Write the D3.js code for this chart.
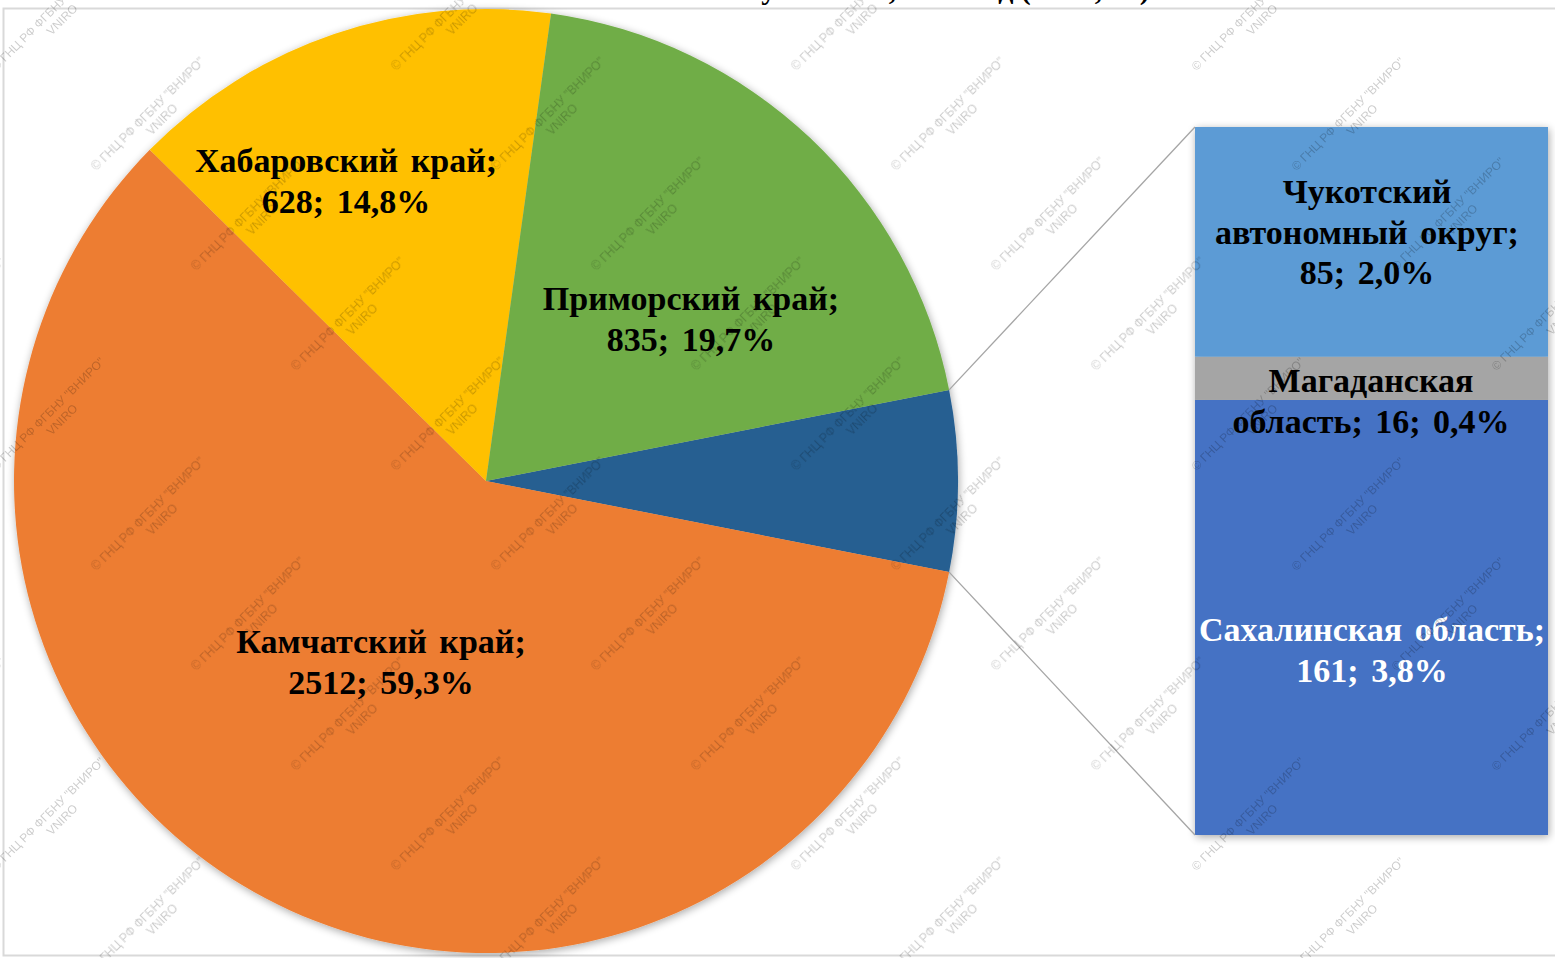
<!DOCTYPE html>
<html>
<head>
<meta charset="utf-8">
<script src="https://cdn.jsdelivr.net/npm/d3@7"></script>
<style>
  html, body { margin: 0; padding: 0; background: #fff; overflow: hidden; }
  #app { width: 1555px; height: 958px; }
</style>
</head>
<body>
<div id="app"></div>
<script>
// data
var pieNames = ["Камчатский край", "Хабаровский край", "Приморский край"];
var pieValues = [2512, 628, 835];
var barNames = ["Сахалинская область", "Магаданская область", "Чукотский автономный округ"];
var barValues = [161, 16, 85];

var pieColors = ["#ED7D31", "#FFC000", "#70AD47"];
var otherColor = "#255E91";
var barColors = ["#4472C4", "#A5A5A5", "#5B9BD5"];
var barTextColors = ["#fff", "#000", "#000"];

// words per line for each label
var pieWrap = [[2, 2], [2, 2], [2, 2]];
var barWrap = [[2, 2], [1, 3], [1, 2, 2]];
// first baseline of each label
var pieLabelPos = [[381, 653], [346, 172], [691, 310]];
var barLabelPos = [[1372, 641], [1371, 392], [1367, 203]];

var W = 1555, H = 958;
var cx = 486, cy = 481, R = 472;
var bar = {x0: 1195, x1: 1548, top: 127, bottom: 835};
var lineH = 40.5;

var otherTotal = d3.sum(barValues);
var total = d3.sum(pieValues) + otherTotal;
function pct(v) { return (v / total * 100).toFixed(1).replace(".", ",") + "%"; }

function wrapLines(words, counts) {
  var out = [], i = 0;
  counts.forEach(function(c) { out.push(words.slice(i, i + c).join(" ")); i += c; });
  return out;
}
function labelWords(name, v) {
  return (name + "; " + v + "; " + pct(v)).split(" ");
}

var svg = d3.select("#app").append("svg")
  .attr("width", W).attr("height", H)
  .style("font-family", "'Liberation Serif', 'Times New Roman', serif");

var defs = svg.append("defs");
var f = defs.append("filter").attr("id", "shadow")
  .attr("x", "-10%").attr("y", "-10%").attr("width", "120%").attr("height", "120%");
f.append("feGaussianBlur").attr("in", "SourceAlpha").attr("stdDeviation", 4).attr("result", "b");
f.append("feOffset").attr("in", "b").attr("dx", 1).attr("dy", 2).attr("result", "o");
f.append("feComponentTransfer").attr("in", "o").attr("result", "s")
  .append("feFuncA").attr("type", "linear").attr("slope", 0.35);
var fm = f.append("feMerge");
fm.append("feMergeNode").attr("in", "s");
fm.append("feMergeNode").attr("in", "SourceGraphic");

// title (cut off at top of the picture)
svg.append("text")
  .attr("x", 880).attr("y", -1.5)
  .attr("text-anchor", "middle")
  .style("font-size", "30px").style("font-weight", "bold")
  .text("Вылов по субъектам, 2022 год (тонн, %)");

// chart border
svg.append("rect")
  .attr("x", 3.5).attr("y", 8.5).attr("width", W + 10).attr("height", 947)
  .attr("fill", "none").attr("stroke", "#d9d9d9").attr("stroke-width", 2);

// pie: "other" slice first, centred on 3 o'clock
var pieData = [{name: "other", value: otherTotal, color: otherColor}].concat(
  pieNames.map(function(n, i) { return {name: n, value: pieValues[i], color: pieColors[i], idx: i}; }));
var otherAngle = otherTotal / total * 2 * Math.PI;
var start = Math.PI / 2 - otherAngle / 2;
var arcs = d3.pie().sort(null).value(function(d) { return d.value; })
  .startAngle(start).endAngle(start + 2 * Math.PI)(pieData);
var arc = d3.arc().innerRadius(0).outerRadius(R);

var gPie = svg.append("g").attr("transform", "translate(" + cx + "," + cy + ")");
gPie.append("g").attr("filter", "url(#shadow)")
  .selectAll("path").data(arcs).join("path")
  .attr("d", arc)
  .attr("fill", function(d) { return d.data.color; });

// bar of pie
var y = d3.scaleLinear().domain([0, otherTotal]).range([bar.bottom, bar.top]);
var stackData = [];
var acc = 0;
barValues.forEach(function(v, i) {
  stackData.push({name: barNames[i], value: v, y0: acc, y1: acc + v, i: i});
  acc += v;
});
svg.append("g").attr("filter", "url(#shadow)")
  .selectAll("rect").data(stackData).join("rect")
  .attr("x", bar.x0).attr("width", bar.x1 - bar.x0)
  .attr("y", function(d) { return y(d.y1); })
  .attr("height", function(d) { return y(d.y0) - y(d.y1); })
  .attr("fill", function(d) { return barColors[d.i]; });

// connector lines
var o = arcs[0];
var pTop = [cx + R * Math.sin(o.startAngle), cy - R * Math.cos(o.startAngle)];
var pBot = [cx + R * Math.sin(o.endAngle), cy - R * Math.cos(o.endAngle)];
svg.append("g").selectAll("line")
  .data([[pTop, [bar.x0, y(otherTotal)]], [pBot, [bar.x0, y(0)]]])
  .join("line")
  .attr("x1", function(d) { return d[0][0]; }).attr("y1", function(d) { return d[0][1]; })
  .attr("x2", function(d) { return d[1][0]; }).attr("y2", function(d) { return d[1][1]; })
  .attr("stroke", "#a5a5a5").attr("stroke-width", 1.3);

// labels
function drawLabel(lines, pos, color) {
  var t = svg.append("text")
    .attr("text-anchor", "middle")
    .attr("fill", color)
    .style("font-size", "34px").style("font-weight", "bold")
    .style("word-spacing", "4px");
  lines.forEach(function(l, k) {
    t.append("tspan").attr("x", pos[0]).attr("y", pos[1] + k * lineH).text(l);
  });
}
pieNames.forEach(function(n, i) {
  drawLabel(wrapLines(labelWords(n, pieValues[i]), pieWrap[i]), pieLabelPos[i], "#000");
});
barNames.forEach(function(n, i) {
  drawLabel(wrapLines(labelWords(n, barValues[i]), barWrap[i]), barLabelPos[i], barTextColors[i]);
});

// watermark
var wm = svg.append("g").attr("fill", "#000").attr("opacity", 0.2)
  .style("font-family", "'Liberation Sans', Arial, sans-serif").style("font-size", "12px");
for (var k = 0; k < 10; k++) {
  for (var m = -1; m < 5; m++) {
    var wx = 48 + 100 * (k % 4) + 400 * m, wy = 14 + 100 * k;
    var g = wm.append("g").attr("transform", "translate(" + wx + "," + wy + ") rotate(-45)");
    g.append("text").attr("text-anchor", "middle").attr("y", 4).text("© ГНЦ РФ ФГБНУ \"ВНИРО\"");
    g.append("text").attr("text-anchor", "middle").attr("x", 6).attr("y", 18).text("VNIRO");
  }
}
</script>
</body>
</html>
